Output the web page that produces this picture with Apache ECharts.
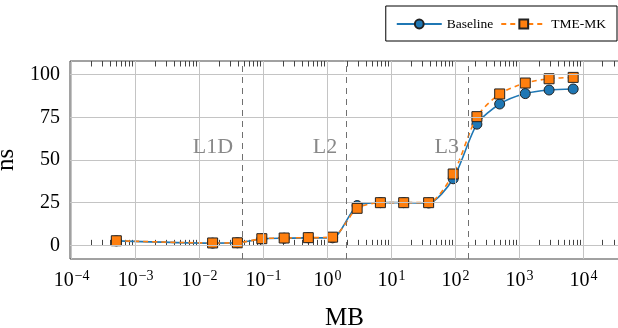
<!DOCTYPE html>
<html>
<head>
<meta charset="utf-8">
<script src="https://cdn.jsdelivr.net/npm/echarts@6/dist/echarts.min.js"></script>
<style>
  html, body { margin: 0; padding: 0; background: #fff; }
  #chart { width: 618px; height: 328px; }
</style>
</head>
<body>
<div id="chart"></div>
<script>
// message size in MB (log x axis)
const sizesMB = [0.0005, 0.016, 0.039, 0.094, 0.21, 0.5, 1.2, 2.9, 6.7, 15.5, 38, 92, 216, 490, 1230, 2900, 6900];
const baseline = [2.6, 1.3, 1.5, 3.8, 4.2, 4.4, 4.4, 23.3, 25.0, 25.0, 24.8, 39.0, 71.0, 82.8, 88.9, 91.0, 91.6];
const tmeMK = [2.7, 1.4, 1.5, 3.9, 4.3, 4.5, 4.8, 21.7, 25.0, 25.0, 25.0, 41.8, 75.4, 88.7, 95.1, 97.6, 98.4];

// cache boundaries (MB)
const cacheNames = ['L1D', 'L2', 'L3'];
const cacheSizes = [0.0469, 2, 159];

const xDecades = [-4, -3, -2, -1, 0, 1, 2, 3, 4];
const yTicks = [0, 25, 50, 75, 100];

const FONT = '"Liberation Serif", "DejaVu Serif", serif';
const lg = Math.log10;

const xMin = -4.025, xMax = 4.555;

// minor ticks 2..9 of every decade inside the range
const xMinor = [];
for (let d = -5; d <= 4; d++) {
  for (let k = 2; k <= 9; k++) {
    const v = d + lg(k);
    if (v > xMin && v < xMax) xMinor.push(v);
  }
}

function supLabel(n) {
  const e = n < 0 ? '\u2212' + (-n) : String(n);
  return '{b|10}{s|' + e + '}';
}

const tickCommon = {inside: true, lineStyle: {color: '#444', width: 1}};

function xAx(pos, ticks, len, labels) {
  return {
    type: 'value', position: pos, min: xMin, max: xMax,
    axisLine: {show: false},
    splitLine: {show: false},
    axisTick: {...tickCommon, length: len, customValues: ticks},
    axisLabel: labels ? {
      show: true, customValues: xDecades, margin: 10,
      formatter: v => supLabel(Math.round(v)),
      rich: {
        b: {fontFamily: FONT, fontSize: 20, color: '#000', lineHeight: 22},
        s: {fontFamily: FONT, fontSize: 14, color: '#000', padding: [0, 0, 10, 1]}
      }
    } : {show: false}
  };
}

const myChart = echarts.init(document.getElementById('chart'), null, {renderer: 'canvas'});
myChart.setOption({
  animation: false,
  grid: {
    left: 70, right: -1, top: 61, bottom: 69,
    containLabel: false, outerBoundsMode: 'none',
    show: true, borderColor: '#444', borderWidth: 1, backgroundColor: 'transparent'
  },
  legend: {
    data: ['Baseline', 'TME-MK'],
    right: 1, top: 6,
    padding: [11, 11, 10, 10],
    borderColor: '#000', borderWidth: 1,
    itemWidth: 45, itemHeight: 11, itemGap: 7,
    textStyle: {fontFamily: FONT, fontSize: 13.5, color: '#000'}
  },
  xAxis: [
    {...xAx('bottom', xDecades, 8, true),
      name: 'MB', nameLocation: 'middle', nameGap: 47,
      nameTextStyle: {fontFamily: FONT, fontSize: 25, color: '#000'}},
    xAx('bottom', xMinor, 5.5, false),
    xAx('top', xDecades, 8, false),
    xAx('top', xMinor, 5.5, false)
  ],
  yAxis: [
    {
      type: 'value', position: 'left', min: -8, max: 108,
      axisLine: {show: false}, splitLine: {show: false},
      axisTick: {...tickCommon, length: 8, customValues: yTicks},
      axisLabel: {customValues: yTicks, margin: 10, fontFamily: FONT, fontSize: 20, color: '#000'},
      name: 'ns', nameLocation: 'middle', nameGap: 41, nameRotate: 90,
      nameTextStyle: {fontFamily: FONT, fontSize: 25, color: '#000'}
    },
    {
      type: 'value', position: 'right', min: -8, max: 108,
      axisLine: {show: false}, splitLine: {show: false},
      axisTick: {...tickCommon, length: 8, customValues: yTicks},
      axisLabel: {show: false}
    }
  ],
  series: [
    {
      // background grid
      name: 'grid', type: 'line', data: [], z: 1, silent: true,
      markLine: {
        silent: true, symbol: ['none', 'none'], animation: false,
        label: {show: false},
        lineStyle: {color: '#c4c4c4', type: 'solid', width: 1},
        data: xDecades.map(v => ({xAxis: v})).concat(yTicks.map(v => ({yAxis: v})))
      }
    },
    {
      // cache size boundaries
      name: 'caches', type: 'line', data: [], z: 2, silent: true,
      markLine: {
        silent: true, symbol: ['none', 'none'], animation: false,
        label: {show: false},
        lineStyle: {color: '#707070', type: [6, 5], width: 1},
        data: cacheSizes.map(v => ({xAxis: lg(v)}))
      },
      markPoint: {
        silent: true, symbol: 'circle', symbolSize: 1, animation: false,
        itemStyle: {color: 'rgba(0,0,0,0)'},
        label: {show: true, position: 'left', distance: 9, fontFamily: FONT, fontSize: 22, color: '#888'},
        data: cacheSizes.map((v, i) => ({coord: [lg(v), 57.5], value: cacheNames[i], label: {formatter: cacheNames[i]}}))
      }
    },
    {
      name: 'Baseline', type: 'line', smooth: 0.25, z: 3,
      data: sizesMB.map((x, i) => [lg(x), baseline[i]]),
      symbol: 'circle', symbolSize: 10,
      lineStyle: {color: '#1f77b4', width: 1.6},
      itemStyle: {color: '#1f77b4', borderColor: '#222', borderWidth: 1}
    },
    {
      name: 'TME-MK', type: 'line', smooth: 0.25, z: 4,
      data: sizesMB.map((x, i) => [lg(x), tmeMK[i]]),
      symbol: 'rect', symbolSize: 10,
      lineStyle: {color: '#ff7f0e', width: 1.6, type: [5, 4]},
      itemStyle: {color: '#ff7f0e', borderColor: '#222', borderWidth: 1}
    }
  ]
});
</script>
</body>
</html>
